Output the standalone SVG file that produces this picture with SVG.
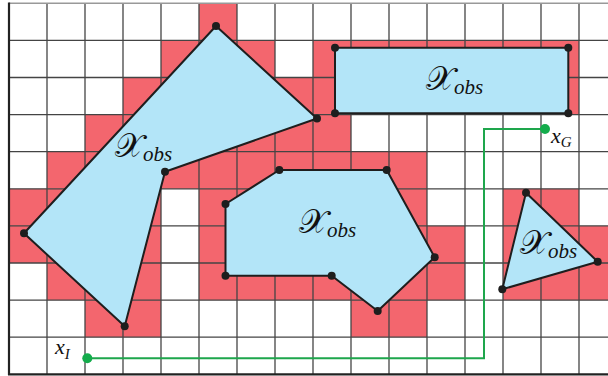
<svg xmlns="http://www.w3.org/2000/svg" width="608" height="376" viewBox="0 0 608 376">
  <style>
    .occ { fill: #f3666e; }
    .grid line { stroke: #444; stroke-width: 1.3; }
    .obs { fill: #b3e5f8; stroke: #1e1e1e; stroke-width: 2; stroke-linejoin: round; }
    .vtx { fill: #1e1e1e; }
    .path { fill: none; stroke: #1ea64c; stroke-width: 2; }
    .goal { fill: #14ac4c; }
    .lbl { font-family: "DejaVu Serif", "Liberation Serif", serif; font-size: 33px; fill: #111; }
    .sub { font-family: "Liberation Serif", serif; font-style: italic; font-size: 21px; }
    .pt { font-family: "Liberation Serif", serif; font-style: italic; font-size: 22px; fill: #111; }
    .pts { font-size: 15px; }
  </style>

  <rect width="608" height="376" fill="#fff"/>

  <!-- occupied cells: columns at x = 9 + 38c, rows at y = 3.3 + 37.1r -->
  <g id="occupied">
    <rect class="occ" x="199" y="3.3" width="38" height="37.1"/>

    <rect class="occ" x="161" y="40.4" width="114" height="37.1"/>
    <rect class="occ" x="313" y="40.4" width="266" height="37.1"/>

    <rect class="occ" x="123" y="77.5" width="456" height="37.1"/>

    <rect class="occ" x="85" y="114.6" width="266" height="37.1"/>

    <rect class="occ" x="47" y="151.7" width="380" height="37.1"/>

    <rect class="occ" x="9" y="188.8" width="152" height="37.1"/>
    <rect class="occ" x="199" y="188.8" width="228" height="37.1"/>
    <rect class="occ" x="503" y="188.8" width="76" height="37.1"/>

    <rect class="occ" x="9" y="225.9" width="152" height="37.1"/>
    <rect class="occ" x="199" y="225.9" width="266" height="37.1"/>
    <rect class="occ" x="503" y="225.9" width="105" height="37.1"/>

    <rect class="occ" x="47" y="263" width="114" height="37.1"/>
    <rect class="occ" x="199" y="263" width="266" height="37.1"/>
    <rect class="occ" x="503" y="263" width="105" height="37.1"/>

    <rect class="occ" x="85" y="300.1" width="76" height="37.1"/>
    <rect class="occ" x="351" y="300.1" width="76" height="37.1"/>
  </g>

  <!-- grid -->
  <g class="grid">
    <line x1="47" y1="3.3" x2="47" y2="374.3"/>
    <line x1="85" y1="3.3" x2="85" y2="374.3"/>
    <line x1="123" y1="3.3" x2="123" y2="374.3"/>
    <line x1="161" y1="3.3" x2="161" y2="374.3"/>
    <line x1="199" y1="3.3" x2="199" y2="374.3"/>
    <line x1="237" y1="3.3" x2="237" y2="374.3"/>
    <line x1="275" y1="3.3" x2="275" y2="374.3"/>
    <line x1="313" y1="3.3" x2="313" y2="374.3"/>
    <line x1="351" y1="3.3" x2="351" y2="374.3"/>
    <line x1="389" y1="3.3" x2="389" y2="374.3"/>
    <line x1="427" y1="3.3" x2="427" y2="374.3"/>
    <line x1="465" y1="3.3" x2="465" y2="374.3"/>
    <line x1="503" y1="3.3" x2="503" y2="374.3"/>
    <line x1="541" y1="3.3" x2="541" y2="374.3"/>
    <line x1="579" y1="3.3" x2="579" y2="374.3"/>

    <line x1="9" y1="40.4" x2="608" y2="40.4"/>
    <line x1="9" y1="77.5" x2="608" y2="77.5"/>
    <line x1="9" y1="114.6" x2="608" y2="114.6"/>
    <line x1="9" y1="151.7" x2="608" y2="151.7"/>
    <line x1="9" y1="188.8" x2="608" y2="188.8"/>
    <line x1="9" y1="225.9" x2="608" y2="225.9"/>
    <line x1="9" y1="263" x2="608" y2="263"/>
    <line x1="9" y1="300.1" x2="608" y2="300.1"/>
    <line x1="9" y1="337.2" x2="608" y2="337.2"/>
  </g>
  <line x1="9" y1="3.3" x2="608" y2="3.3" stroke="#999" stroke-width="1.5"/>
  <line x1="9" y1="2.5" x2="9" y2="375" stroke="#222" stroke-width="2.2"/>
  <line x1="8" y1="374.3" x2="608" y2="374.3" stroke="#222" stroke-width="2.2"/>

  <!-- obstacles -->
  <g id="obs-left">
    <polygon class="obs" points="216,26 317,118.5 165,171.7 124.7,326.3 24,233.3"/>
    <g class="vtx">
      <circle cx="216" cy="26" r="4"/>
      <circle cx="317" cy="118.5" r="4"/>
      <circle cx="165" cy="171.7" r="4"/>
      <circle cx="124.7" cy="326.3" r="4"/>
      <circle cx="24" cy="233.3" r="4"/>
    </g>
    <text class="lbl" x="115" y="157">𝒳<tspan class="sub" dy="4">obs</tspan></text>
  </g>

  <g id="obs-rect">
    <rect class="obs" x="335" y="47.7" width="233.3" height="65.6"/>
    <g class="vtx">
      <circle cx="335" cy="47.7" r="4"/>
      <circle cx="568.3" cy="47.7" r="4"/>
      <circle cx="335" cy="113.3" r="4"/>
      <circle cx="568.3" cy="113.3" r="4"/>
    </g>
    <text class="lbl" x="426" y="90">𝒳<tspan class="sub" dy="4">obs</tspan></text>
  </g>

  <g id="obs-middle">
    <polygon class="obs" points="279.3,170 386.7,170 434.7,257.3 377.7,311 331.7,275.7 225.5,275.7 225.5,204"/>
    <g class="vtx">
      <circle cx="279.3" cy="170" r="4"/>
      <circle cx="386.7" cy="170" r="4"/>
      <circle cx="434.7" cy="257.3" r="4"/>
      <circle cx="377.7" cy="311" r="4"/>
      <circle cx="331.7" cy="275.7" r="4"/>
      <circle cx="225.5" cy="275.7" r="4"/>
      <circle cx="225.5" cy="204" r="4"/>
    </g>
    <text class="lbl" x="299" y="233">𝒳<tspan class="sub" dy="4">obs</tspan></text>
  </g>

  <g id="obs-triangle">
    <polygon class="obs" points="526,192.7 597.7,261.7 502.3,289.3"/>
    <g class="vtx">
      <circle cx="526" cy="192.7" r="4"/>
      <circle cx="597.7" cy="261.7" r="4"/>
      <circle cx="502.3" cy="289.3" r="4"/>
    </g>
    <text class="lbl" x="520" y="254">𝒳<tspan class="sub" dy="4">obs</tspan></text>
  </g>

  <!-- planned path from start to goal -->
  <g id="connectors">
    <polyline class="path" points="87.3,358.3 484,358.3 484,129 545,129"/>
  </g>

  <g id="start">
    <circle class="goal" cx="87.3" cy="358.3" r="5"/>
    <text class="pt" x="55" y="354">x<tspan class="pts" dy="5">I</tspan></text>
  </g>

  <g id="goal">
    <circle class="goal" cx="545" cy="129" r="5"/>
    <text class="pt" x="551" y="143">x<tspan class="pts" dy="4">G</tspan></text>
  </g>
</svg>
